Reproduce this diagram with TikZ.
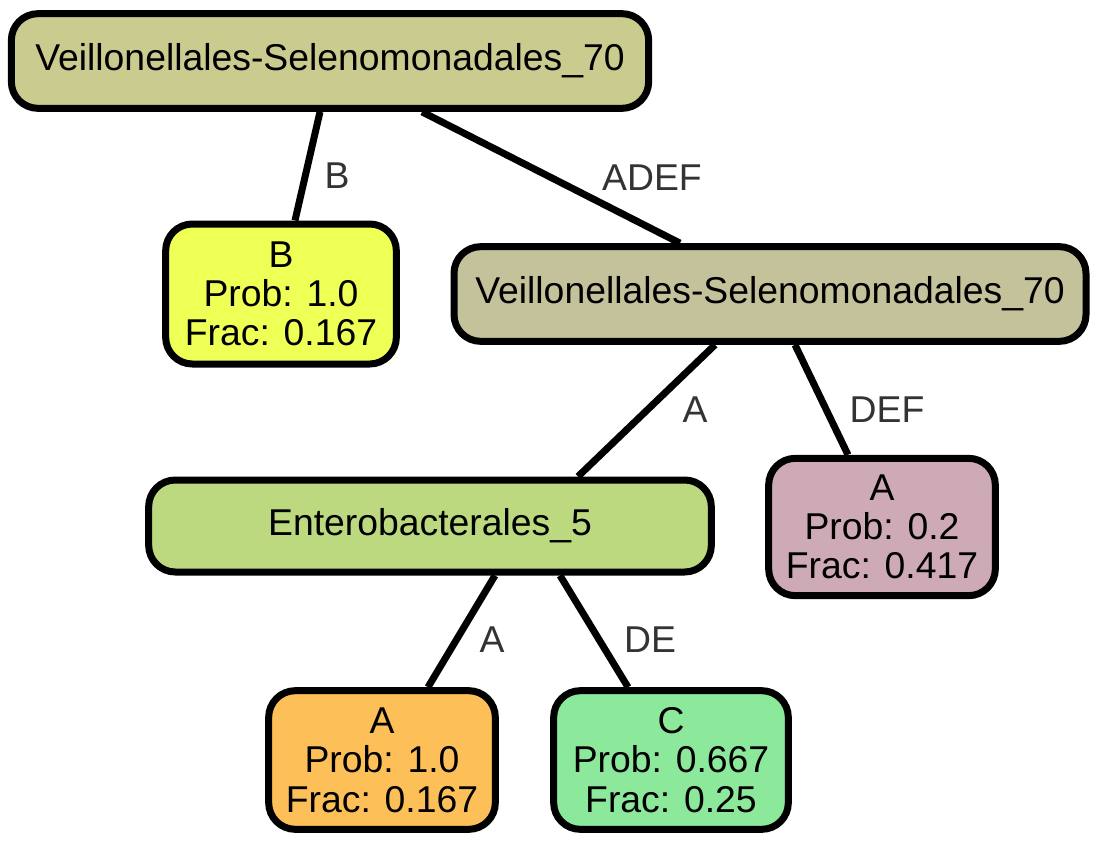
\documentclass[tikz,border=0pt]{standalone}
\usepackage{fontspec}
\setmainfont{Liberation Sans}
\begin{document}
\begin{tikzpicture}[x=0.75pt,y=-0.75pt,
  box/.style={draw=black,line width=5.25pt,rounded corners=20pt,inner sep=0pt,align=center,font=\fontsize{28}{29.5}\selectfont},
  edge/.style={draw=black,line width=5.25pt},
  elabel/.style={text=black!80,font=\fontsize{28}{29.5}\selectfont,inner sep=0pt}]
\useasboundingbox (0,0) rectangle (1100,846);
\definecolor{cRoot}{HTML}{CACB8E}
\definecolor{cB}{HTML}{EEFF55}
\definecolor{cVS}{HTML}{C4C29B}
\definecolor{cEnt}{HTML}{BCD97F}
\definecolor{cA2}{HTML}{CDAAB6}
\definecolor{cAo}{HTML}{FDBF57}
\definecolor{cC}{HTML}{8CE89B}
\node[box,fill=cRoot,minimum width=478pt,minimum height=71pt] (root) at (330,61) {Veillonellales-Selenomonadales\_70};
\node[box,fill=cB,minimum width=173pt,minimum height=105pt] (b) at (281,294) {B\\Prob: 1.0\\Frac: 0.167};
\node[box,fill=cVS,minimum width=474pt,minimum height=71pt] (vs) at (770,294) {Veillonellales-Selenomonadales\_70};
\node[box,fill=cEnt,minimum width=422pt,minimum height=69pt] (ent) at (430,526) {Enterobacterales\_5};
\node[box,fill=cA2,minimum width=170pt,minimum height=103pt] (a2) at (882,527) {A\\Prob: 0.2\\Frac: 0.417};
\node[box,fill=cAo,minimum width=170pt,minimum height=104pt] (ao) at (382,760) {A\\Prob: 1.0\\Frac: 0.167};
\node[box,fill=cC,minimum width=176pt,minimum height=104pt] (c) at (671,760) {C\\Prob: 0.667\\Frac: 0.25};
\draw[edge] ([xshift=-7.5pt]root.south) -- ([xshift=10.5pt]b.north);
\draw[edge] ([xshift=69pt]root.south) -- ([xshift=-67.5pt]vs.north);
\draw[edge] ([xshift=-41.25pt]vs.south) -- ([xshift=111pt]ent.north);
\draw[edge] ([xshift=18.75pt]vs.south) -- ([xshift=-25.5pt]a2.north);
\draw[edge] ([xshift=48.75pt]ent.south) -- ([xshift=34.5pt]ao.north);
\draw[edge] ([xshift=97.5pt]ent.south) -- ([xshift=-32.25pt]c.north);
\node[elabel] (lb) at (337,176) {B};
\node[elabel] (ladef) at (652,178) {ADEF};
\node[elabel] (la1) at (695,410) {A};
\node[elabel] (ldef) at (887,410) {DEF};
\node[elabel] (la2) at (492,640) {A};
\node[elabel] (lde) at (650,640) {DE};
\end{tikzpicture}
\end{document}
